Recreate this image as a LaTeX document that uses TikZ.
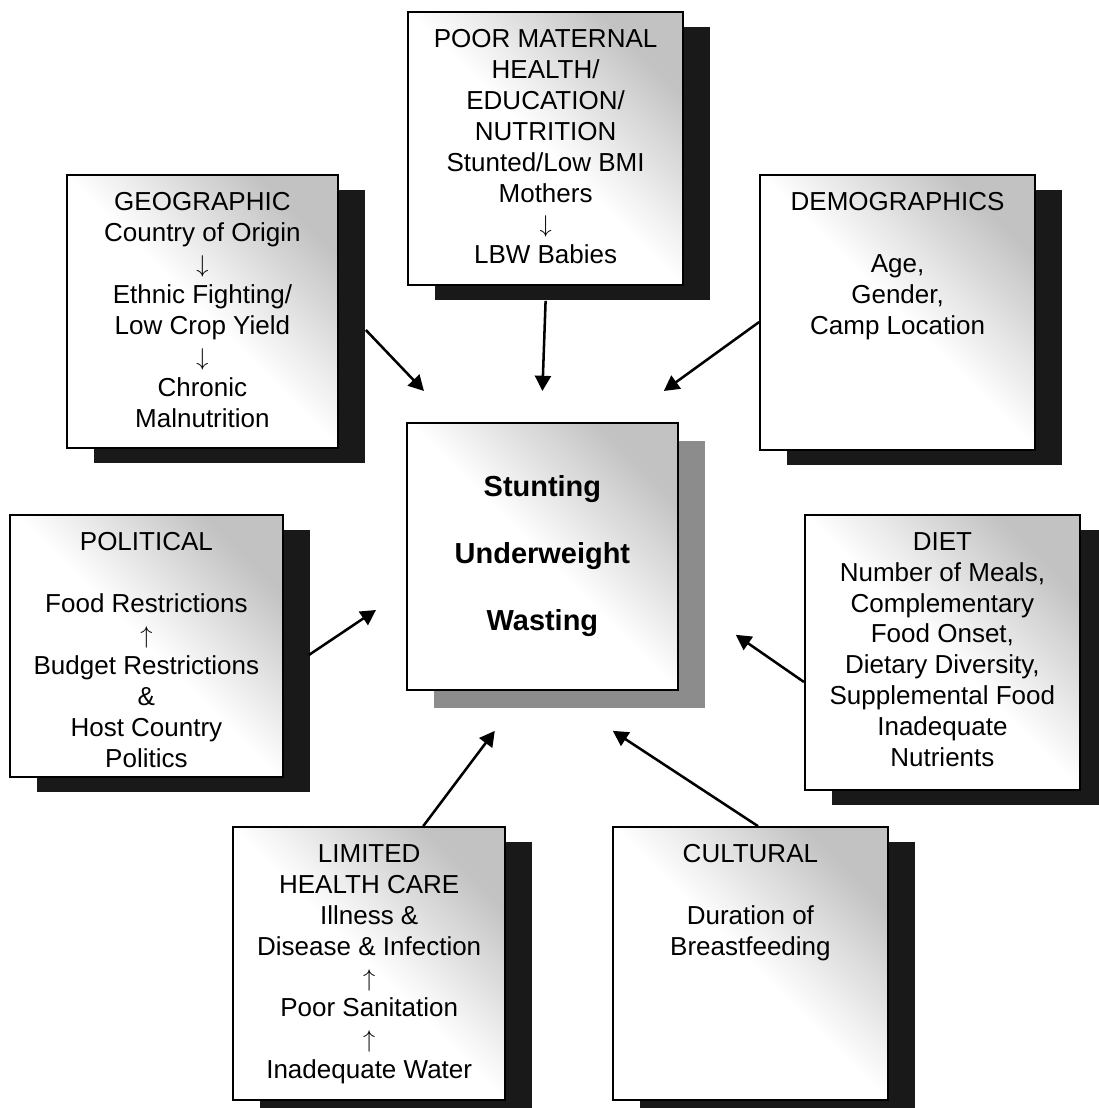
\documentclass[tikz,border=0pt]{standalone}
\usepackage{fontspec}
\setmainfont{Liberation Sans}
\usetikzlibrary{positioning,shadows,arrows.meta}

\begin{document}
\begin{tikzpicture}
\useasboundingbox (0,0) rectangle (27.475,-27.7);

\tikzset{box/.style={draw,line width=1.2pt,top color=black!24,bottom color=white,middle color=white,shading angle=-45}};
\tikzset{factor/.style={box,drop shadow={shadow xshift=0.68cm,shadow yshift=-0.37cm,fill=black!90,opacity=1}}};
\tikzset{outcome/.style={box,drop shadow={shadow xshift=0.68cm,shadow yshift=-0.45cm,fill=black!45,opacity=1},align=center,font=\bfseries\fontsize{20.6}{47.7}\selectfont}};
\tikzset{factortext/.style={align=center,inner sep=0pt,font=\fontsize{18.5}{22}\selectfont}};
\tikzset{cause/.style={-{Triangle[length=0.38cm,width=0.4cm]},line width=1.8pt}};

\node[factor,minimum width=6.88cm,minimum height=6.83cm] (mat) at (13.64,-3.71) {};
\node[factortext,below=0.45cm of mat.north] (mattext) {POOR MATERNAL\\HEALTH/\\EDUCATION/\\NUTRITION\\Stunted/Low BMI\\Mothers\\$\downarrow$\\LBW Babies};

\node[factor,minimum width=6.78cm,minimum height=6.83cm] (geo) at (5.06,-7.79) {};
\node[factortext,below=0.45cm of geo.north] (geotext) {GEOGRAPHIC\\Country of Origin\\$\downarrow$\\Ethnic Fighting/\\Low Crop Yield\\$\downarrow$\\Chronic\\Malnutrition};

\node[factor,minimum width=6.88cm,minimum height=6.88cm] (demo) at (22.44,-7.81) {};
\node[factortext,below=0.45cm of demo.north] (demotext) {DEMOGRAPHICS\\[22pt]Age,\\Gender,\\Camp Location};

\node[outcome,minimum width=6.78cm,minimum height=6.68cm] (core) at (13.56,-13.91) {Stunting\\Underweight\\Wasting};

\node[factor,minimum width=6.83cm,minimum height=6.55cm] (pol) at (3.66,-16.15) {};
\node[factortext,below=0.45cm of pol.north] (poltext) {POLITICAL\\[22pt]Food Restrictions\\$\uparrow$\\Budget Restrictions\\\&\\Host Country\\Politics};

\node[factor,minimum width=6.88cm,minimum height=6.88cm] (diet) at (23.56,-16.31) {};
\node[factortext,below=0.45cm of diet.north] (diettext) {DIET\\Number of Meals,\\Complementary\\Food Onset,\\Dietary Diversity,\\Supplemental Food\\Inadequate\\Nutrients};

\node[factor,minimum width=6.8cm,minimum height=6.83cm] (care) at (9.23,-24.09) {};
\node[factortext,below=0.45cm of care.north] (caretext) {LIMITED\\HEALTH CARE\\Illness \&\\Disease \& Infection\\$\uparrow$\\Poor Sanitation\\$\uparrow$\\Inadequate Water};

\node[factor,minimum width=6.88cm,minimum height=6.83cm] (cult) at (18.76,-24.09) {};
\node[factortext,below=0.45cm of cult.north] (culttext) {CULTURAL\\[22pt]Duration of\\Breastfeeding};

\draw[cause] ([xshift=0.675cm,yshift=-0.46cm]geo.east) -- ([xshift=0.45cm,yshift=0.775cm]core.north west);
\draw[cause] ([yshift=-0.375cm]mat.south) -- ([yshift=0.775cm]core.north);
\draw[cause] ([yshift=-0.24cm]demo.west) -- ([xshift=-0.375cm,yshift=0.775cm]core.north east);
\draw[cause] ([xshift=0.625cm,yshift=-0.225cm]pol.east) -- ([xshift=-0.75cm,yshift=-1.34cm]core.west);
\draw[cause] ([yshift=-0.74cm]diet.west) -- ([xshift=1.425cm,yshift=-1.96cm]core.east);
\draw[cause] ([xshift=1.35cm]care.north) -- ([xshift=-1.19cm,yshift=-1cm]core.south);
\draw[cause] ([xshift=0.19cm]cult.north) -- ([xshift=1.76cm,yshift=-1cm]core.south);
\end{tikzpicture}
\end{document}
